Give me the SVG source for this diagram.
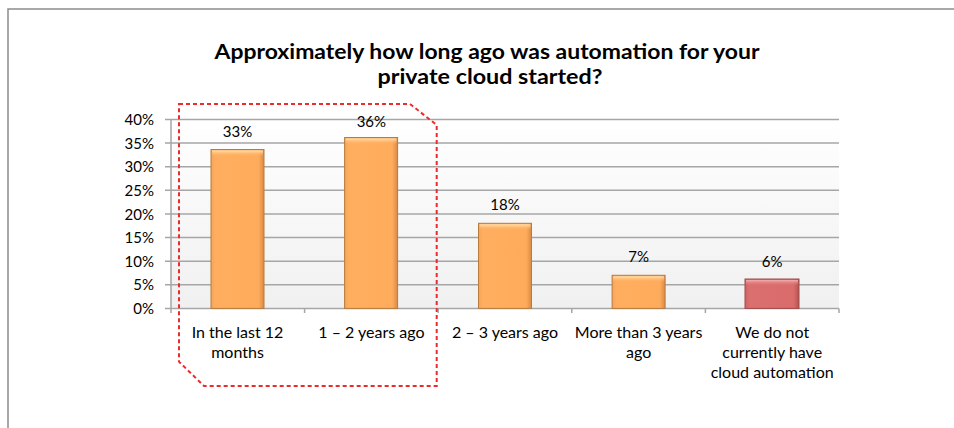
<svg xmlns="http://www.w3.org/2000/svg" width="954" height="428" viewBox="0 0 954 428">
<defs>
<style>
.t{font-family:Lato,"Open Sans","Liberation Sans",sans-serif;fill:#000}
.ttl{font-size:20px;font-weight:bold;text-anchor:middle}
.ax{font-size:15px;text-anchor:end}
.cat{font-size:16px;text-anchor:middle}
.val{font-size:15px;text-anchor:middle}
.grid{stroke:#A6A6A6;stroke-width:1.5;fill:none}
.bar{fill:url(#og);stroke:#B97A3C;stroke-width:1}
.barR{fill:url(#rg);stroke:#A04A4A;stroke-width:1}
.bev{fill:url(#bevO)}
.bevR{fill:url(#bevR)}
</style>
<linearGradient id="bg" x1="0" y1="0" x2="0" y2="1">
<stop offset="0" stop-color="#FFFFFF"/>
<stop offset="1" stop-color="#F0F0F0"/>
</linearGradient>
<linearGradient id="og" x1="0" y1="0" x2="1" y2="0">
<stop offset="0" stop-color="#F6A358"/>
<stop offset="0.08" stop-color="#FFAE5F"/>
<stop offset="0.9" stop-color="#FFAB5C"/>
<stop offset="1" stop-color="#D98A44"/>
</linearGradient>
<linearGradient id="rg" x1="0" y1="0" x2="1" y2="0">
<stop offset="0" stop-color="#CF6262"/>
<stop offset="0.08" stop-color="#DB6E6E"/>
<stop offset="0.9" stop-color="#D96B6B"/>
<stop offset="1" stop-color="#B45252"/>
</linearGradient>
<linearGradient id="bevO" x1="0" y1="0" x2="0" y2="1">
<stop offset="0" stop-color="#FFE2B0"/>
<stop offset="1" stop-color="#FFAE5F" stop-opacity="0"/>
</linearGradient>
<linearGradient id="bevR" x1="0" y1="0" x2="0" y2="1">
<stop offset="0" stop-color="#F4AFAF"/>
<stop offset="1" stop-color="#DB6E6E" stop-opacity="0"/>
</linearGradient>
</defs>
<rect width="954" height="428" fill="#FFFFFF"/>
<path d="M8,428 V9 H954" fill="none" stroke="#8C8C8C" stroke-width="1.5"/>
<g id="title">
<text class="t ttl" x="487" y="59" textLength="545" lengthAdjust="spacingAndGlyphs">Approximately how long ago was automation for your</text>
<text class="t ttl" x="490" y="84" textLength="225" lengthAdjust="spacingAndGlyphs">private cloud started?</text>
</g>
<g id="plot">
<rect x="171" y="119.5" width="668" height="189" fill="url(#bg)"/>
<g class="grid">
<path d="M165,119.5H839M165,143.1H839M165,166.7H839M165,190.3H839M165,214H839M165,237.6H839M165,261.2H839M165,284.8H839M165,308.4H839"/>
<path d="M171,119.5V313M304.6,308.4V313M438.2,308.4V313M571.8,308.4V313M705.4,308.4V313M839,308.4V313"/>
</g>
</g>
<g id="yaxis">
<text class="t ax" x="154" y="125">40%</text>
<text class="t ax" x="154" y="148.6">35%</text>
<text class="t ax" x="154" y="172.2">30%</text>
<text class="t ax" x="154" y="195.8">25%</text>
<text class="t ax" x="154" y="219.5">20%</text>
<text class="t ax" x="154" y="243.1">15%</text>
<text class="t ax" x="154" y="266.7">10%</text>
<text class="t ax" x="154" y="290.3">5%</text>
<text class="t ax" x="154" y="313.9">0%</text>
</g>
<g id="bar1">
<rect class="bar" x="211" y="149.5" width="53" height="158.9"/>
<rect class="bev" x="212" y="150.5" width="51" height="6"/>
<text class="t val" x="237.5" y="137">33%</text>
<text class="t cat" x="237.5" y="337.5">In the last 12</text>
<text class="t cat" x="237.5" y="357.5">months</text>
</g>
<g id="bar2">
<rect class="bar" x="344.6" y="137.5" width="53" height="170.9"/>
<rect class="bev" x="345.6" y="138.5" width="51" height="6"/>
<text class="t val" x="371.4" y="127">36%</text>
<text class="t cat" x="371.4" y="337.5">1 – 2 years ago</text>
</g>
<g id="bar3">
<rect class="bar" x="478.5" y="223.3" width="53" height="85.1"/>
<rect class="bev" x="479.5" y="224.3" width="51" height="6"/>
<text class="t val" x="505" y="210">18%</text>
<text class="t cat" x="505" y="337.5">2 – 3 years ago</text>
</g>
<g id="bar4">
<rect class="bar" x="612.1" y="275.3" width="53" height="33.1"/>
<rect class="bev" x="613.1" y="276.3" width="51" height="6"/>
<text class="t val" x="638.6" y="262">7%</text>
<text class="t cat" x="638.6" y="337.5">More than 3 years</text>
<text class="t cat" x="638.6" y="357.5">ago</text>
</g>
<g id="bar5">
<rect class="barR" x="745" y="279" width="54" height="29.4"/>
<rect class="bevR" x="746" y="280" width="52" height="6"/>
<text class="t val" x="772.2" y="267">6%</text>
<text class="t cat" x="772.2" y="337.5">We do not</text>
<text class="t cat" x="772.2" y="357.5">currently have</text>
<text class="t cat" x="772.2" y="377.5">cloud automation</text>
</g>
<g id="connectors">
<path id="highlight" d="M179,104 H410 L436.7,125 V386 H204 L179,361.7 Z" fill="none" stroke="#EE2A2A" stroke-width="2" stroke-dasharray="4,3"/>
</g>
</svg>
